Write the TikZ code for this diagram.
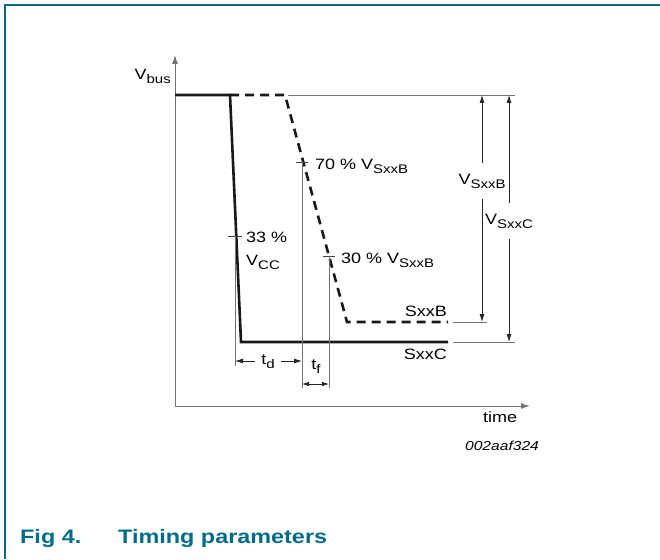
\documentclass[tikz,border=0pt]{standalone}
\usepackage{fontspec}
\setmainfont{Liberation Sans}[FakeStretch=1.2]
\usetikzlibrary{arrows.meta}

\definecolor{figteal}{RGB}{0,108,136}
\newcommand{\subtext}[1]{\raisebox{-4pt}{\fontsize{12.5}{14}\selectfont #1}}

\tikzset{
    frameline/.style={line width=2pt, figteal},
    axisline/.style={line width=1pt, black!55, -{Latex[length=9pt,width=6pt]}},
    signal/.style={line width=2.6pt, black!90},
    signaldash/.style={signal, dash pattern=on 9pt off 6pt},
    guide/.style={line width=0.8pt, black!55},
    tickmark/.style={line width=0.9pt, black!75},
    dimarrow/.style={line width=0.8pt, black!85, -{Latex[length=8pt,width=5pt]}},
    dimboth/.style={line width=0.8pt, black!85, {Latex[length=7pt,width=4.5pt]}-{Latex[length=7pt,width=4.5pt]}},
    lbl/.style={inner sep=1pt, font=\fontsize{15}{18}\selectfont},
    gaplbl/.style={lbl, inner xsep=0pt, minimum height=35pt},
    caption/.style={inner sep=0pt, text=figteal, font=\fontsize{19.5}{22}\selectfont\bfseries},
}

\begin{document}
\begin{tikzpicture}[x=1pt, y=-1pt]
    \useasboundingbox (0,0) rectangle (660,559);

    % Frame
    \draw[frameline] (5,559) -- (5,5) -- (660,5);

    % Axes
    \coordinate (orig) at (175,406);
    \coordinate (ytip) at (175,55);
    \coordinate (xtip) at (530,406);
    \draw[axisline] (orig) -- (ytip);
    \draw[axisline] (orig) -- (xtip);
    \node[lbl, anchor=base east] (vbuslbl) at (172,80) {V\subtext{bus}};
    \node[lbl, anchor=base] (timelbl) at (500,422) {time};
    \node[inner sep=0pt, font=\fontsize{13}{15}\selectfont\itshape] (codelbl) at (502,446) {002aaf324};

    % SxxC (solid) and SxxB (dashed) curves
    \coordinate (c0) at (175,95);
    \coordinate (c1) at (230,95);
    \coordinate (c2) at (241,342);
    \coordinate (c3) at (448,342);
    \coordinate (b1) at (285,95);
    \coordinate (b2) at (347,322);
    \coordinate (b3) at (448,322);
    \draw[signal] (c0) -- (c1) -- (c2) -- (c3);
    \draw[signaldash] (c1) -- (b1) -- (b2) -- (b3);
    \node[lbl, anchor=base east] (sxxblbl) at (448,316) {SxxB};
    \node[lbl, anchor=base east] (sxxclbl) at (448,359) {SxxC};

    % Level reference lines
    \draw[guide] (288,95) -- (515,95);
    \draw[guide] (453,322) -- (487,322);
    \draw[guide] (453,342) -- (515,342);

    % Level arrows
    \coordinate (vbtop) at (482,95);
    \coordinate (vbbot) at (482,322);
    \coordinate (vctop) at (509,95);
    \coordinate (vcbot) at (509,342);
    \node[gaplbl] (vsxxb) at (482,181) {V\subtext{SxxB}};
    \node[gaplbl] (vsxxc) at (509,221) {V\subtext{SxxC}};
    \draw[dimarrow] (vsxxb.north) -- (vbtop);
    \draw[dimarrow] (vsxxb.south) -- (vbbot);
    \draw[dimarrow] (vsxxc.north) -- (vctop);
    \draw[dimarrow] (vsxxc.south) -- (vcbot);

    % Threshold ticks and drop lines
    \draw[tickmark] (228,236) -- (242,236);
    \draw[guide] (235,236) -- (235,366);
    \draw[tickmark] (296,162) -- (308,162);
    \draw[guide] (302,162) -- (302,388);
    \draw[tickmark] (323,256) -- (335,256);
    \draw[guide] (329,256) -- (329,388);
    \node[lbl, anchor=base west] (pct33) at (245,242) {33 \%};
    \node[lbl, anchor=base west] (vcc) at (245,265) {V\subtext{CC}};
    \node[lbl, anchor=base west] (pct70) at (314,169) {70 \% V\subtext{SxxB}};
    \node[lbl, anchor=base west] (pct30) at (340,263) {30 \% V\subtext{SxxB}};

    % Delay and fall times
    \coordinate (tdl) at (235,361);
    \coordinate (tdr) at (302,361);
    \coordinate (tfl) at (302,384);
    \coordinate (tfr) at (329,384);
    \node[lbl, inner xsep=6pt, anchor=base] (tdlbl) at (268,364) {t\subtext{d}};
    \draw[dimarrow] (tdlbl.west |- tdl) -- (tdl);
    \draw[dimarrow] (tdlbl.east |- tdr) -- (tdr);
    \node[lbl] (tflbl) at (316,367) {t\subtext{f}};
    \draw[dimboth] (tfl) -- (tfr);

    % Caption
    \node[caption, anchor=base west] (figno) at (20,543) {Fig 4.};
    \node[caption, anchor=base west] (figtitle) at (118,543) {Timing parameters};
\end{tikzpicture}
\end{document}
